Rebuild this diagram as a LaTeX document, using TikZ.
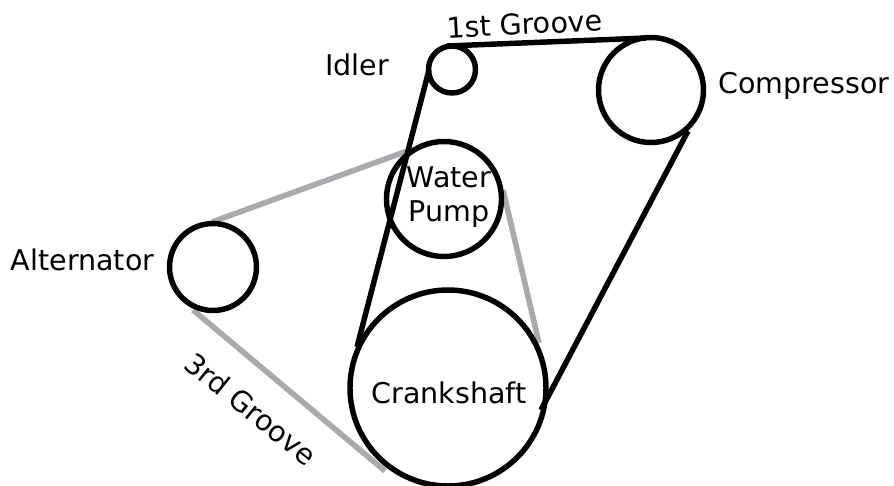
\documentclass[tikz,border=0pt]{standalone}
\usepackage{fontspec}
\setmainfont{DejaVu Sans}
\definecolor{beltgrey}{HTML}{A9A9AE}
\tikzset{pulley/.style={circle,draw=black,line width=4.1pt,inner sep=0pt,outer sep=0pt,fill=none},
belt/.style={line width=4.1pt,black},
greybelt/.style={line width=4.2pt,color=beltgrey},
lab/.style={font=\fontsize{21.4}{25}\selectfont,inner sep=0pt,text=black}}
\begin{document}
\begin{tikzpicture}[x=0.75pt,y=-0.75pt]
\useasboundingbox (0,0) rectangle (894,486);
\coordinate (a1) at (212,222);
\coordinate (a2) at (410,150);
\coordinate (a3) at (193,310);
\coordinate (a4) at (385,471);
\coordinate (w1) at (503,190);
\coordinate (w2) at (539,343);
\coordinate (i1) at (429,70);
\coordinate (i2) at (357,347);
\coordinate (i3) at (447,46);
\coordinate (c1) at (646,38);
\coordinate (c2) at (688,131);
\coordinate (c3) at (541,410);
\draw[greybelt] (a1) -- (a2);
\draw[greybelt] (a3) -- (a4);
\draw[greybelt] (w1) -- (w2);
\draw[belt] (i1) -- (i2);
\draw[belt] (i3) -- (c1);
\draw[belt] (c2) -- (c3);
\node[pulley,minimum size=65.25pt] (alt) at (213,267) {};
\node[pulley,minimum size=86.25pt] (wp) at (444,199) {};
\node[pulley,minimum size=35.25pt] (idl) at (452,69.5) {};
\node[pulley,minimum size=78.75pt] (cmp) at (651,90) {};
\node[pulley,minimum size=147pt] (crk) at (448,388) {};
\node[lab,rotate=3] (t1) at (524.5,24) {1st Groove};
\node[lab] (t2) at (357,65) {Idler};
\node[lab] (t3) at (804,86) {Compressor};
\node[lab,align=center] (t4) at (449,197) {Water\\Pump};
\node[lab] (t5) at (82.5,260) {Alternator};
\node[lab] (t6) at (449,393) {Crankshaft};
\node[lab,rotate=-39] (t7) at (251,409) {3rd Groove};
\end{tikzpicture}
\end{document}
